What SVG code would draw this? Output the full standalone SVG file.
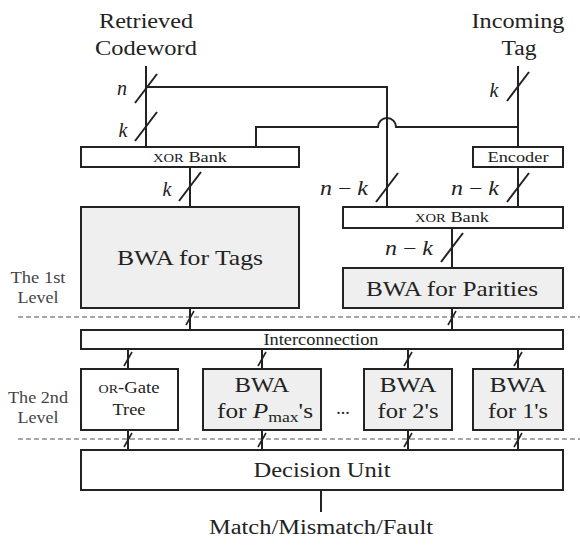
<svg xmlns="http://www.w3.org/2000/svg" width="580" height="545" viewBox="0 0 580 545">
  <style>
    .box { fill: #ffffff; stroke: #222; stroke-width: 2; }
    .bwa { fill: #efefef; stroke: #222; stroke-width: 2; }
    .wire { fill: none; stroke: #222; stroke-width: 2; }
    .slash { fill: none; stroke: #222; stroke-width: 2; }
    .tick { fill: none; stroke: #222; stroke-width: 1.6; }
    .sep { fill: none; stroke: #8a8a8a; stroke-width: 1.5; stroke-dasharray: 5 3; }
  </style>
  <defs>
    <path id="bus" class="slash" d="M-11,14 L11,-15"/>
    <path id="tk" class="tick" d="M-4,7 L4,-7"/>
  </defs>

  <!-- level separators -->
  <g id="separators">
    <line class="sep" x1="18" y1="317" x2="580" y2="317"/>
    <line class="sep" x1="18" y1="439" x2="580" y2="439"/>
  </g>

  <!-- inputs / outputs -->
  <g id="input-codeword" fill="#222" text-anchor="middle">
    <text font-family="Liberation Serif" x="146" y="28" font-size="20" textLength="94" lengthAdjust="spacingAndGlyphs">Retrieved</text>
    <text font-family="Liberation Serif" x="146" y="55" font-size="20" textLength="102" lengthAdjust="spacingAndGlyphs">Codeword</text>
  </g>
  <g id="input-tag" fill="#222" text-anchor="middle">
    <text font-family="Liberation Serif" x="518" y="28" font-size="20" textLength="93" lengthAdjust="spacingAndGlyphs">Incoming</text>
    <text font-family="Liberation Serif" x="519" y="55" font-size="20" textLength="35" lengthAdjust="spacingAndGlyphs">Tag</text>
  </g>
  <g id="output" fill="#222" text-anchor="middle">
    <text font-family="Liberation Serif" x="321" y="534" font-size="20" textLength="224" lengthAdjust="spacingAndGlyphs">Match/Mismatch/Fault</text>
  </g>

  <!-- level labels -->
  <g id="level-1" fill="#444" text-anchor="middle">
    <text font-family="Liberation Serif" x="38" y="283" font-size="17" textLength="55" lengthAdjust="spacingAndGlyphs">The 1st</text>
    <text font-family="Liberation Serif" x="38" y="303" font-size="17" textLength="41" lengthAdjust="spacingAndGlyphs">Level</text>
  </g>
  <g id="level-2" fill="#444" text-anchor="middle">
    <text font-family="Liberation Serif" x="38" y="403" font-size="17" textLength="60" lengthAdjust="spacingAndGlyphs">The 2nd</text>
    <text font-family="Liberation Serif" x="38" y="423" font-size="17" textLength="41" lengthAdjust="spacingAndGlyphs">Level</text>
  </g>

  <!-- first level -->
  <g id="xor-bank-tags" fill="#222" text-anchor="middle">
    <rect class="box" x="81" y="147" width="218" height="20"/>
    <text font-family="Liberation Serif" x="190" y="162" font-size="15" textLength="74" lengthAdjust="spacingAndGlyphs"><tspan font-size="12">XOR</tspan> Bank</text>
  </g>
  <g id="encoder" fill="#222" text-anchor="middle">
    <rect class="box" x="473" y="147" width="90" height="20"/>
    <text font-family="Liberation Serif" x="518" y="162" font-size="15" textLength="61" lengthAdjust="spacingAndGlyphs">Encoder</text>
  </g>
  <g id="xor-bank-parities" fill="#222" text-anchor="middle">
    <rect class="box" x="343" y="207" width="220" height="21"/>
    <text font-family="Liberation Serif" x="452" y="222" font-size="15" textLength="74" lengthAdjust="spacingAndGlyphs"><tspan font-size="12">XOR</tspan> Bank</text>
  </g>
  <g id="bwa-tags" fill="#222" text-anchor="middle">
    <rect class="bwa" x="81" y="207" width="218" height="101"/>
    <text font-family="Liberation Serif" x="190" y="265" font-size="22" textLength="146" lengthAdjust="spacingAndGlyphs">BWA for Tags</text>
  </g>
  <g id="bwa-parities" fill="#222" text-anchor="middle">
    <rect class="bwa" x="343" y="268" width="220" height="40"/>
    <text font-family="Liberation Serif" x="452" y="296" font-size="22" textLength="172" lengthAdjust="spacingAndGlyphs">BWA for Parities</text>
  </g>
  <g id="interconnection" fill="#222" text-anchor="middle">
    <rect class="box" x="81" y="330" width="482" height="19"/>
    <text font-family="Liberation Serif" x="321" y="345" font-size="16" textLength="115" lengthAdjust="spacingAndGlyphs">Interconnection</text>
  </g>

  <!-- second level -->
  <g id="or-gate-tree" fill="#222" text-anchor="middle">
    <rect class="box" x="81" y="369" width="97" height="61"/>
    <text font-family="Liberation Serif" x="129" y="393" font-size="16" textLength="61" lengthAdjust="spacingAndGlyphs"><tspan font-size="12">OR</tspan>-Gate</text>
    <text font-family="Liberation Serif" x="129" y="415" font-size="16" textLength="33" lengthAdjust="spacingAndGlyphs">Tree</text>
  </g>
  <g id="bwa-pmax" fill="#222" text-anchor="middle">
    <rect class="bwa" x="203" y="369" width="118" height="61"/>
    <text font-family="Liberation Serif" x="262" y="392" font-size="20" textLength="55" lengthAdjust="spacingAndGlyphs">BWA</text>
    <text font-family="Liberation Serif" x="265" y="418" font-size="20" textLength="96" lengthAdjust="spacingAndGlyphs">for <tspan font-style="italic">P</tspan><tspan font-size="14" dy="4">max</tspan><tspan dy="-4">'s</tspan></text>
  </g>
  <g id="ellipsis" fill="#222" text-anchor="middle">
    <text font-family="Liberation Serif" x="343" y="414" font-size="18">...</text>
  </g>
  <g id="bwa-2s" fill="#222" text-anchor="middle">
    <rect class="bwa" x="364" y="369" width="88" height="61"/>
    <text font-family="Liberation Serif" x="408" y="392" font-size="20" textLength="57" lengthAdjust="spacingAndGlyphs">BWA</text>
    <text font-family="Liberation Serif" x="408" y="418" font-size="20" textLength="61" lengthAdjust="spacingAndGlyphs">for 2's</text>
  </g>
  <g id="bwa-1s" fill="#222" text-anchor="middle">
    <rect class="bwa" x="473" y="369" width="90" height="61"/>
    <text font-family="Liberation Serif" x="518" y="392" font-size="20" textLength="57" lengthAdjust="spacingAndGlyphs">BWA</text>
    <text font-family="Liberation Serif" x="518" y="418" font-size="20" textLength="60" lengthAdjust="spacingAndGlyphs">for 1's</text>
  </g>
  <g id="decision-unit" fill="#222" text-anchor="middle">
    <rect class="box" x="81" y="450" width="482" height="40"/>
    <text font-family="Liberation Serif" x="322" y="477" font-size="22" textLength="137" lengthAdjust="spacingAndGlyphs">Decision Unit</text>
  </g>

  <!-- connectors -->
  <g id="connectors">
    <path class="wire" d="M146,66 V147"/>
    <path class="wire" d="M146,87 H387 V207"/>
    <path class="wire" d="M256,147 V127 H378 A9,9 0 0 1 396,127 H518"/>
    <path class="wire" d="M518,66 V147"/>
    <path class="wire" d="M518,167 V207"/>
    <path class="wire" d="M190,167 V207"/>
    <path class="wire" d="M452,228 V268"/>
    <path class="wire" d="M190,308 V330 M452,308 V330"/>
    <path class="wire" d="M128,349 V369 M262,349 V369 M408,349 V369 M518,349 V369"/>
    <path class="wire" d="M128,430 V450 M262,430 V450 M408,430 V450 M518,430 V450"/>
    <path class="wire" d="M321,490 V512"/>

    <!-- bus-width marks -->
    <use href="#bus" x="146" y="89"/>
    <use href="#bus" x="146" y="127"/>
    <use href="#bus" x="518" y="87"/>
    <use href="#bus" x="190" y="187"/>
    <use href="#bus" x="387" y="188"/>
    <use href="#bus" x="518" y="188"/>
    <use href="#bus" x="452" y="248"/>

    <use href="#tk" x="190" y="318"/>
    <use href="#tk" x="452" y="318"/>
    <use href="#tk" x="128" y="359"/>
    <use href="#tk" x="262" y="359"/>
    <use href="#tk" x="408" y="359"/>
    <use href="#tk" x="518" y="359"/>
    <use href="#tk" x="128" y="440"/>
    <use href="#tk" x="262" y="440"/>
    <use href="#tk" x="408" y="440"/>
    <use href="#tk" x="518" y="440"/>

    <!-- bus widths -->
    <g fill="#222" text-anchor="middle">
      <text font-family="Liberation Serif" font-style="italic" x="122" y="95" font-size="20">n</text>
      <text font-family="Liberation Serif" font-style="italic" x="123" y="137" font-size="20">k</text>
      <text font-family="Liberation Serif" font-style="italic" x="494" y="97" font-size="20">k</text>
      <text font-family="Liberation Serif" font-style="italic" x="167" y="196" font-size="20">k</text>
      <text font-family="Liberation Serif" x="344" y="195" font-size="20" textLength="48" lengthAdjust="spacingAndGlyphs"><tspan font-style="italic">n</tspan> &#8722; <tspan font-style="italic">k</tspan></text>
      <text font-family="Liberation Serif" x="475" y="195" font-size="20" textLength="48" lengthAdjust="spacingAndGlyphs"><tspan font-style="italic">n</tspan> &#8722; <tspan font-style="italic">k</tspan></text>
      <text font-family="Liberation Serif" x="409" y="255" font-size="20" textLength="48" lengthAdjust="spacingAndGlyphs"><tspan font-style="italic">n</tspan> &#8722; <tspan font-style="italic">k</tspan></text>
    </g>
  </g>
</svg>
